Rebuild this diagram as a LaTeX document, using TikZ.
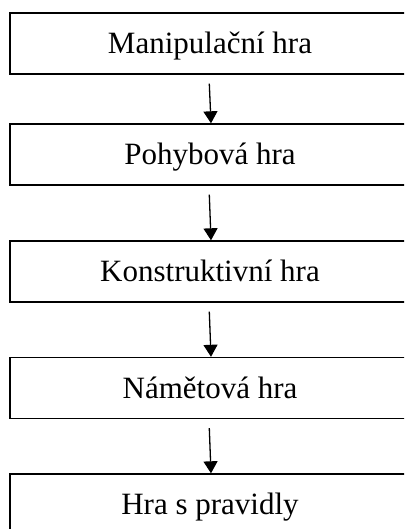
\documentclass[tikz,border=0pt]{standalone}
\usepackage{fontspec}
\setmainfont{Liberation Serif}
\usetikzlibrary{arrows.meta}
\tikzset{
  stage/.style={draw=black, line width=1.4pt, minimum width=400pt, minimum height=61pt,
    inner sep=0pt, font=\fontsize{31}{33}\selectfont, text height=20.5pt, text depth=0pt},
  flow/.style={line width=1.3pt, -{Triangle[width=14pt,length=12pt]}}
}
\begin{document}
\begin{tikzpicture}[x=1pt,y=1pt]
  \useasboundingbox (0,0) rectangle (404,-529);
  \clip (0,0) rectangle (404,-529);
  \fill[white] (0,0) rectangle (404,-529);
  % the five stages of play, top to bottom
  \node[stage] (b1) at (210,-43.5) {Manipulační hra};
  \node[stage] (b2) at (210,-154.5) {Pohybová hra};
  \node[stage] (b3) at (210,-271.5) {Konstruktivní hra};
  \node[stage] (b4) at (210,-388) {Námětová hra};
  \node[stage] (b5) at (210,-504.5) {Hra s pravidly};
  % connecting arrows
  \draw[flow] ([xshift=-0.7pt,yshift=-9pt]b1.south) -- ([xshift=1pt]b2.north);
  \draw[flow] ([xshift=-0.7pt,yshift=-9pt]b2.south) -- ([xshift=1pt]b3.north);
  \draw[flow] ([xshift=-0.7pt,yshift=-9pt]b3.south) -- ([xshift=1pt]b4.north);
  \draw[flow] ([xshift=-0.7pt,yshift=-9pt]b4.south) -- ([xshift=1pt]b5.north);
\end{tikzpicture}
\end{document}
